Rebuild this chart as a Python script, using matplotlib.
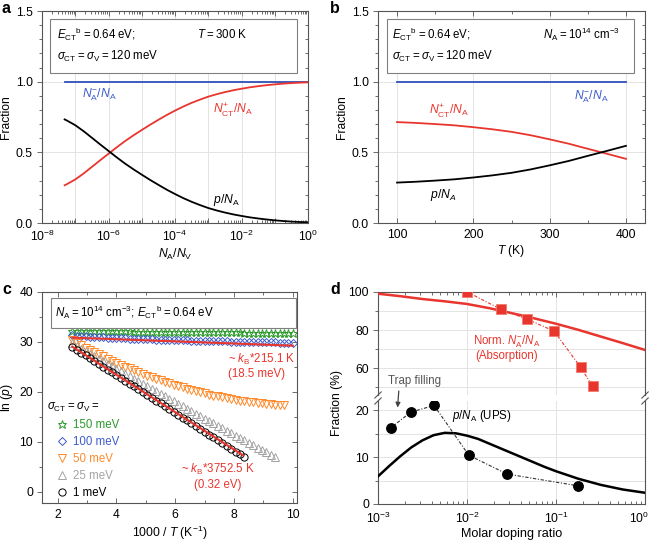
import numpy as np
import matplotlib
matplotlib.use("Agg")
import matplotlib.pyplot as plt
from matplotlib.ticker import FixedLocator, FuncFormatter, MultipleLocator, LogLocator, NullFormatter
from matplotlib.patches import Rectangle
from matplotlib.transforms import ScaledTranslation

plt.rcParams['font.family'] = ['Liberation Sans', 'DejaVu Sans']
plt.rcParams['mathtext.fontset'] = 'custom'
plt.rcParams['mathtext.rm'] = 'Liberation Sans'
plt.rcParams['mathtext.it'] = 'Liberation Sans:italic'
plt.rcParams['mathtext.bf'] = 'Liberation Sans:bold'
plt.rcParams['mathtext.sf'] = 'Liberation Sans'
plt.rcParams['axes.unicode_minus'] = True

# ---------------- data ----------------
# Panel a : fractions vs N_A/N_V (log10 of x)
A_LOGX = [-7.32, -7.25, -7.0, -6.75, -6.5, -6.25, -6.0, -5.75, -5.5, -5.25, -5.0, -4.75, -4.5, -4.25, -4.0,
          -3.75, -3.5, -3.25, -3.0, -2.75, -2.5, -2.25, -2.0, -1.75, -1.5, -1.25, -1.0, -0.75, -0.5, -0.25, 0.0]
A_P = [0.733, 0.725, 0.692, 0.650, 0.603, 0.556, 0.510, 0.464, 0.420, 0.380, 0.342, 0.305, 0.270, 0.236, 0.205,
       0.176, 0.150, 0.127, 0.106, 0.089, 0.074, 0.061, 0.050, 0.040, 0.032, 0.025, 0.019, 0.014, 0.010, 0.007, 0.005]
A_NCT = [0.267, 0.275, 0.308, 0.350, 0.397, 0.444, 0.490, 0.536, 0.580, 0.620, 0.658, 0.695, 0.730, 0.764, 0.795,
         0.824, 0.850, 0.873, 0.894, 0.911, 0.926, 0.939, 0.950, 0.960, 0.968, 0.975, 0.981, 0.986, 0.990, 0.993, 0.995]
A_NA = [1.0] * 31

# Panel b : fractions vs T
B_T = [100, 125, 150, 175, 200, 225, 250, 275, 300, 325, 350, 375, 400]
B_NCT = [0.714, 0.708, 0.700, 0.691, 0.678, 0.663, 0.645, 0.621, 0.592, 0.561, 0.525, 0.490, 0.454]
B_P = [0.286, 0.292, 0.300, 0.309, 0.322, 0.337, 0.355, 0.379, 0.408, 0.439, 0.475, 0.510, 0.546]
B_NA = [1.0] * 13

# Panel c : ln(p) vs 1000/T
C_X = [2.50, 2.65, 2.80, 2.95, 3.10, 3.25, 3.40, 3.55, 3.70, 3.85, 4.00, 4.15, 4.30, 4.45, 4.60,
       4.75, 4.90, 5.05, 5.20, 5.35, 5.50, 5.65, 5.80, 5.95, 6.10, 6.25, 6.40, 6.55, 6.70, 6.85,
       7.00, 7.15, 7.30, 7.45, 7.60, 7.75, 7.90, 8.05, 8.20, 8.35, 8.50, 8.65, 8.80, 8.95, 9.10,
       9.25, 9.40, 9.55, 9.70, 9.85, 10.00]
C_150 = [32.20, 32.19, 32.18, 32.18, 32.17, 32.16, 32.15, 32.14, 32.13, 32.13, 32.12, 32.11, 32.10, 32.09, 32.08,
         32.08, 32.07, 32.06, 32.05, 32.04, 32.04, 32.03, 32.02, 32.01, 32.00, 31.99, 31.99, 31.98, 31.97, 31.96,
         31.95, 31.94, 31.94, 31.93, 31.92, 31.91, 31.90, 31.90, 31.89, 31.88, 31.87, 31.86, 31.85, 31.85, 31.84,
         31.83, 31.82, 31.81, 31.80, 31.80, 31.79]
C_100 = [31.30, 31.24, 31.18, 31.12, 31.07, 31.01, 30.96, 30.91, 30.87, 30.82, 30.78, 30.74, 30.71, 30.66, 30.63,
         30.59, 30.55, 30.52, 30.49, 30.46, 30.43, 30.40, 30.38, 30.35, 30.32, 30.30, 30.28, 30.25, 30.23, 30.21,
         30.19, 30.17, 30.15, 30.13, 30.11, 30.09, 30.07, 30.05, 30.04, 30.02, 30.00, 29.98, 29.96, 29.95, 29.93,
         29.91, 29.89, 29.87, 29.86, 29.84, 29.82]
C_50 = [30.30, 29.81, 29.33, 28.86, 28.40, 27.95, 27.51, 27.07, 26.65, 26.23, 25.83, 25.43, 25.04, 24.67, 24.30,
        23.94, 23.59, 23.25, 22.92, 22.59, 22.28, 21.98, 21.68, 21.40, 21.12, 20.86, 20.60, 20.35, 20.11, 19.88,
        19.66, 19.45, 19.25, 19.06, 18.88, 18.71, 18.54, 18.39, 18.24, 18.11, 17.98, 17.86, 17.75, 17.65, 17.56,
        17.48, 17.41, 17.35, 17.30]
C_25 = [29.70, 29.18, 28.67, 28.16, 27.64, 27.13, 26.62, 26.11, 25.60, 25.09, 24.58, 24.08, 23.57, 23.07, 22.56,
        22.06, 21.56, 21.06, 20.55, 20.06, 19.56, 19.06, 18.56, 18.07, 17.57, 17.08, 16.58, 16.09, 15.60, 15.11,
        14.62, 14.13, 13.64, 13.15, 12.67, 12.18, 11.70, 11.21, 10.73, 10.25, 9.76, 9.28, 8.80, 8.33, 7.85,
        7.37, 6.90]
C_1 = [29.00, 28.43, 27.87, 27.30, 26.73, 26.17, 25.60, 25.03, 24.46, 23.90, 23.33, 22.76, 22.20, 21.63, 21.06,
       20.50, 19.93, 19.36, 18.80, 18.23, 17.66, 17.09, 16.53, 15.96, 15.39, 14.83, 14.26, 13.69, 13.12, 12.56,
       11.99, 11.42, 10.86, 10.29, 9.72, 9.16, 8.59, 8.02, 7.46, 6.89]
C_FIT100_X = [2.5, 10.0]
C_FIT100_Y = [30.85, 29.24]
C_FIT1_X = [2.5, 8.3]
C_FIT1_Y = [29.05, 7.28]
C_SIGMA_LABELS = ["150 meV", "100 meV", "50 meV", "25 meV", "1 meV"]

# Panel d : fraction (%) vs molar doping ratio
D_RED_LOGX = [-3.0, -2.75, -2.5, -2.25, -2.0, -1.75, -1.5, -1.25, -1.0, -0.75, -0.5, -0.25, 0.0]
D_RED_LINE = [99.1, 97.8, 96.3, 95.1, 93.7, 91.5, 88.9, 86.2, 83.3, 80.1, 76.6, 73.1, 69.5]
D_BLK_LOGX = [-3.0, -2.875, -2.75, -2.625, -2.5, -2.375, -2.25, -2.125, -2.0, -1.875, -1.75, -1.625, -1.5,
              -1.375, -1.25, -1.125, -1.0, -0.75, -0.5, -0.25, 0.0]
D_BLK_LINE = [5.9, 8.1, 10.2, 12.1, 13.6, 14.7, 15.2, 15.1, 14.6, 13.9, 12.9, 11.9, 10.9,
              9.9, 8.9, 7.9, 7.0, 5.4, 4.1, 3.1, 2.4]
D_UPS_X = [0.0014, 0.00233, 0.00426, 0.0105, 0.0282, 0.175]
D_UPS_Y = [16.3, 19.6, 21.05, 10.4, 6.4, 3.9]
D_ABS_X = [0.0101, 0.024, 0.0467, 0.0946, 0.19, 0.258]
D_ABS_Y = [100.0, 90.9, 85.8, 79.5, 60.3, 50.3]

# ---------------- style ----------------
RED = '#e8352d'
BLUE = '#2f4fb8'
GREEN = '#2b9a2b'
CBLUE = '#3d5ccc'
ORANGE = '#ff8a2a'
GRAY = '#a3a3a3'
GRID = '#e3e3e3'
SPINE = '#555555'
FS = 8.3
FT = 8.7
TS = '\u2009=\u2009'

W, H = 653, 545
fig = plt.figure(figsize=(W / 100, H / 100), dpi=100)


def box(l, t, r, b):
    return [l / W, 1 - b / H, (r - l) / W, (b - t) / H]


def style(ax):
    for s in ax.spines.values():
        s.set_color(SPINE)
        s.set_linewidth(0.8)
    ax.tick_params(which='both', top=True, right=False, color=SPINE, width=0.6, labelsize=FT)
    ax.tick_params(axis='x', which='both', direction='in')
    ax.tick_params(axis='y', which='both', direction='out')
    ax.tick_params(which='major', length=3.5, pad=3)
    ax.tick_params(axis='x', which='major', pad=4)
    ax.tick_params(which='minor', length=2)
    ax.set_axisbelow(True)


def right_ticks(ax, major, minor):
    ax2 = ax.secondary_yaxis('right')
    ax2.tick_params(which='both', direction='in', color=SPINE, width=0.6, labelright=False)
    ax2.tick_params(which='major', length=3.5)
    ax2.tick_params(which='minor', length=2)
    ax2.spines['right'].set_visible(False)
    ax2.yaxis.set_major_locator(MultipleLocator(major))
    ax2.yaxis.set_minor_locator(MultipleLocator(minor))
    return ax2


def logfmt(show):
    def f(v, pos):
        k = int(round(np.log10(v)))
        return r'$10^{%d}$' % k if show(k) else ''
    return FuncFormatter(f)


# ---------------- panel a ----------------
axa = fig.add_axes(box(42, 11, 308, 223))
style(axa)
xa = 10.0 ** np.array(A_LOGX)
axa.set_xscale('log')
axa.set_xlim(1e-8, 1)
axa.set_ylim(0, 1.5)
axa.xaxis.set_major_locator(FixedLocator([10.0 ** k for k in range(-8, 1)]))
axa.xaxis.set_major_formatter(logfmt(lambda k: k % 2 == 0))
axa.xaxis.set_minor_locator(LogLocator(base=10, subs=np.arange(2, 10), numticks=30))
axa.xaxis.set_minor_formatter(NullFormatter())
axa.yaxis.set_major_locator(MultipleLocator(0.5))
axa.yaxis.set_minor_locator(MultipleLocator(0.1))
axa.yaxis.set_major_formatter(FuncFormatter(lambda v, p: '%.1f' % v))
axa.grid(True, which='major', color=GRID, lw=0.7)
right_ticks(axa, 0.5, 0.1)
axa.plot(xa, A_NA, color=BLUE, lw=1.3)
axa.plot(xa, A_NCT, color=RED, lw=1.3)
axa.plot(xa, A_P, color='black', lw=1.3)
axa.add_patch(Rectangle((0.03, 0.708), 0.928, 0.254, transform=axa.transAxes,
                        facecolor='white', edgecolor='#808080', lw=0.8, zorder=4))
axa.text(0.055, 0.89, r'$E_{\rm CT}{}^{\rm b}$' + TS + '0.64 eV;', transform=axa.transAxes, fontsize=FS, va='center', zorder=5)
axa.text(0.582, 0.89, r'$T$' + TS + '300 K', transform=axa.transAxes, fontsize=FS, va='center', zorder=5)
axa.text(0.055, 0.784, r'$\sigma_{\rm CT}$' + TS + r'$\sigma_{\rm V}$' + TS + '120 meV', transform=axa.transAxes,
         fontsize=FS, va='center', zorder=5)
axa.text(1.6e-7, 0.905, r'$N_{\rm A}^{-}/N_{\rm A}$', color=CBLUE, fontsize=FS + 0.4, va='center')
axa.text(1.4e-3, 0.80, r'$N_{\rm CT}^{+}/N_{\rm A}$', color=RED, fontsize=FS + 0.4, va='center')
axa.text(1.4e-3, 0.165, r'$p/N_{\rm A}$', color='black', fontsize=FS + 0.4, va='center')
axa.set_xlabel(r'$N_{\rm A}/N_{\rm V}$', fontsize=FS + 0.4, labelpad=2)
axa.set_ylabel('Fraction', fontsize=FS + 0.4, labelpad=3)

# ---------------- panel b ----------------
axb = fig.add_axes(box(378, 11, 645, 223))
style(axb)
axb.set_xlim(75, 425)
axb.set_ylim(0, 1.5)
axb.xaxis.set_major_locator(MultipleLocator(100))
axb.xaxis.set_minor_locator(MultipleLocator(50))
axb.yaxis.set_major_locator(MultipleLocator(0.5))
axb.yaxis.set_minor_locator(MultipleLocator(0.1))
axb.yaxis.set_major_formatter(FuncFormatter(lambda v, p: '%.1f' % v))
axb.grid(True, which='major', color=GRID, lw=0.7)
right_ticks(axb, 0.5, 0.1)
axb.plot(B_T, B_NA, color=BLUE, lw=1.3)
axb.plot(B_T, B_NCT, color=RED, lw=1.3)
axb.plot(B_T, B_P, color='black', lw=1.3)
axb.add_patch(Rectangle((0.033, 0.708), 0.926, 0.254, transform=axb.transAxes,
                        facecolor='white', edgecolor='#808080', lw=0.8, zorder=4))
axb.text(0.051, 0.89, r'$E_{\rm CT}{}^{\rm b}$' + TS + '0.64 eV;', transform=axb.transAxes, fontsize=FS, va='center', zorder=5)
axb.text(0.617, 0.89, r'$N_{\rm A}$' + TS + r'10$^{14}$ cm$^{-3}$', transform=axb.transAxes, fontsize=FS, va='center', zorder=5)
axb.text(0.051, 0.784, r'$\sigma_{\rm CT}$' + TS + r'$\sigma_{\rm V}$' + TS + '120 meV', transform=axb.transAxes,
         fontsize=FS, va='center', zorder=5)
axb.text(332, 0.895, r'$N_{\rm A}^{-}/N_{\rm A}$', color=CBLUE, fontsize=FS + 0.4, va='center')
axb.text(142, 0.79, r'$N_{\rm CT}^{+}/N_{\rm A}$', color=RED, fontsize=FS + 0.4, va='center')
axb.text(143, 0.20, r'$p/N_{A}$', color='black', fontsize=FS + 0.4, va='center')
axb.set_xlabel(r'$T$ (K)', fontsize=FS + 0.4, labelpad=2)
axb.set_ylabel('Fraction', fontsize=FS + 0.4, labelpad=3)

# ---------------- panel c ----------------
axc = fig.add_axes(box(42, 292, 297, 503))
style(axc)
axc.set_xlim(1.47, 10.14)
axc.set_ylim(-2.3, 40)
axc.xaxis.set_major_locator(MultipleLocator(2))
axc.xaxis.set_minor_locator(MultipleLocator(1))
axc.yaxis.set_major_locator(MultipleLocator(10))
axc.yaxis.set_minor_locator(MultipleLocator(5))
right_ticks(axc, 10, 5)
series = [(C_150, '*', GREEN, 6.3), (C_100, 'D', CBLUE, 4.4), (C_50, 'v', ORANGE, 5.8),
          (C_25, '^', GRAY, 5.8), (C_1, 'o', 'black', 5.2)]
handles = []
for (vals, mk, col, ms), lab in zip(series, C_SIGMA_LABELS):
    h, = axc.plot(C_X[:len(vals)], vals, ls='none', marker=mk, mfc='none', mec=col, ms=ms, mew=0.7, label=lab)
    handles.append(h)
axc.plot(C_FIT100_X, C_FIT100_Y, color=RED, lw=1.5, zorder=5)
axc.plot(C_FIT1_X, C_FIT1_Y, color=RED, lw=1.5, zorder=5)
axc.add_patch(Rectangle((0.034, 0.831), 0.963, 0.142, transform=axc.transAxes,
                        facecolor='white', edgecolor='#808080', lw=0.8, zorder=4))
axc.text(0.051, 0.902, r'$N_{\rm A}$' + TS + r'10$^{14}$ cm$^{-3}$; $E_{\rm CT}{}^{\rm b}$' + TS + '0.64 eV',
         transform=axc.transAxes, fontsize=FS, va='center', zorder=5)
axc.text(7.79, 25.2, r'~ $k_{\rm B}$*215.1 K' + '\n(18.5 meV)', color=RED, fontsize=FS, va='center',
         ha='left', linespacing=1.15)
axc.text(6.2, 3.0, r'~ $k_{\rm B}$*3752.5 K' + '\n(0.32 eV)', color=RED, fontsize=FS, va='center',
         ha='left', multialignment='center', linespacing=1.15)
axc.text(0.018, 0.452, r'$\sigma_{\rm CT}$' + TS + r'$\sigma_{\rm V}$' + TS, transform=axc.transAxes,
         fontsize=FS, va='center')
leg = axc.legend(handles=handles, loc='upper left', bbox_to_anchor=(0.053, 0.396), frameon=False,
                 fontsize=FS, borderpad=0, borderaxespad=0, handlelength=1.2, handletextpad=0.3,
                 labelspacing=0.42)
for t, (_, _, col, _) in zip(leg.get_texts(), series):
    t.set_color(col)
axc.set_xlabel(r'1000 / $T$ (K$^{-1}$)', fontsize=FS + 0.4, labelpad=2)
axc.set_ylabel(r'ln ($p$)', fontsize=FS + 0.4, labelpad=3)

# ---------------- panel d (broken axis) ----------------
axu = fig.add_axes(box(378, 292, 645, 395))
axl = fig.add_axes(box(378, 401, 645, 504))
for ax in (axu, axl):
    style(ax)
    ax.set_xscale('log')
    ax.set_xlim(1e-3, 1)
    ax.xaxis.set_major_locator(FixedLocator([1e-3, 1e-2, 1e-1, 1.0]))
    ax.xaxis.set_major_formatter(logfmt(lambda k: True))
    ax.xaxis.set_minor_locator(LogLocator(base=10, subs=np.arange(2, 10), numticks=30))
    ax.xaxis.set_minor_formatter(NullFormatter())
    ax.grid(True, axis='x', which='major', color=GRID, lw=0.7)
    ax.grid(True, axis='y', which='both', color=GRID, lw=0.7)
axu.set_ylim(45.8, 100)
axu.yaxis.set_major_locator(MultipleLocator(20))
axu.yaxis.set_minor_locator(MultipleLocator(10))
axu.spines['bottom'].set_visible(False)
axu.tick_params(axis='x', which='both', bottom=False, labelbottom=False)
right_ticks(axu, 20, 10)
axl.set_ylim(0, 22)
axl.yaxis.set_major_locator(MultipleLocator(10))
axl.yaxis.set_minor_locator(MultipleLocator(5))
axl.spines['top'].set_visible(False)
axl.tick_params(axis='x', which='both', top=False)
axl.tick_params(axis='x', which='major', pad=5)
right_ticks(axl, 10, 5)
# keep the last decade label inside the canvas
last_tick = axl.xaxis.get_major_ticks()[-1]
last_tick.label1.set_transform(last_tick.label1.get_transform()
                               + ScaledTranslation(-4 / 72, 0, fig.dpi_scale_trans))

axu.plot(10.0 ** np.array(D_RED_LOGX), D_RED_LINE, color=RED, lw=1.8, zorder=3)
axu.plot(D_ABS_X, D_ABS_Y, color=RED, lw=0.8, ls=(0, (3, 1.5, 1, 1.5)), marker='s', ms=6.5,
         mfc=RED, mec='#f07a6e', mew=0.6, zorder=4)
axl.plot(10.0 ** np.array(D_BLK_LOGX), D_BLK_LINE, color='black', lw=1.8, zorder=3)
axl.plot(D_UPS_X, D_UPS_Y, color='#333333', lw=0.8, ls=(0, (3, 1.5, 1, 1.5)), marker='o', ms=6.8,
         mfc='black', mec='black', zorder=4)
axu.text(0.0279, 73.8, r'Norm. $N_{\rm A}^{-}/N_{\rm A}$', color=RED, fontsize=FS, ha='center', va='center')
axu.text(0.0279, 66.3, '(Absorption)', color=RED, fontsize=FS, ha='center', va='center')
axl.text(0.00673, 18.9, r'$p/N_{\rm A}$ (UPS)', color='black', fontsize=FS, va='center')
axl.annotate('Trap filling', xy=(0.00166, 20.6), xytext=(0.00257, 26.3), textcoords='data',
             fontsize=FS, color='#555555', ha='center', va='center', annotation_clip=False,
             arrowprops=dict(arrowstyle='-|>', color='#444444', lw=0.9, mutation_scale=7,
                             relpos=(0.21, 0.0), shrinkA=1, shrinkB=0))
# break marks
for ax, y0 in ((axu, 0.0), (axl, 1.0)):
    for xx in (0.0, 1.0):
        ax.plot([xx - 0.012, xx + 0.012], [y0 - 0.03, y0 + 0.03], transform=ax.transAxes,
                color=SPINE, lw=0.8, clip_on=False)
axl.set_xlabel('Molar doping ratio', fontsize=FS + 0.8, labelpad=1)
fig.text(337 / W, 1 - 403 / H, 'Fraction (%)', rotation=90, fontsize=FS + 0.4, ha='center', va='center')

# panel letters
for txt, x, y in (('a', 2, 1), ('b', 330, 1), ('c', 2, 282), ('d', 330, 282)):
    fig.text(x / W, 1 - y / H, txt, fontsize=11.5, fontweight='bold', va='top', ha='left')

fig.savefig('out.png', dpi=100)
